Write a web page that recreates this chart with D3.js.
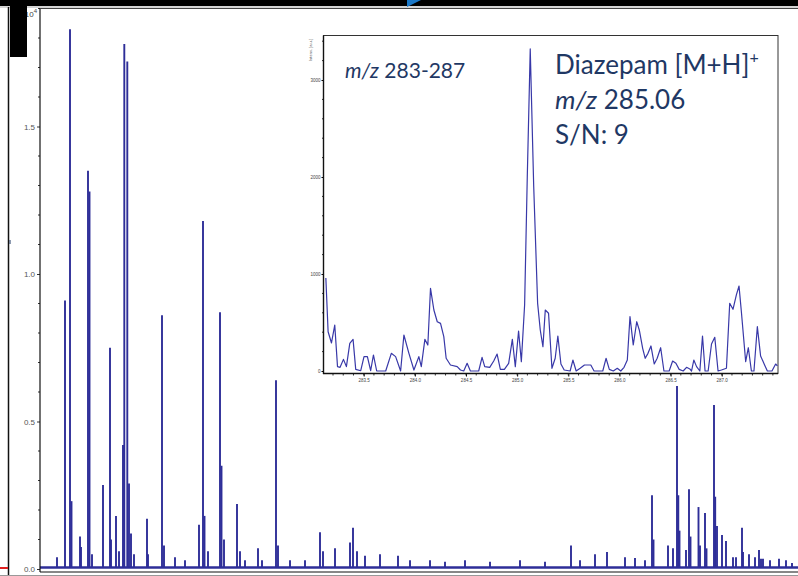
<!DOCTYPE html>
<html>
<head>
<meta charset="utf-8">
<script src="https://cdn.jsdelivr.net/npm/d3@7"></script>
<style>
  body { margin: 0; background: #fff; }
  svg { display: block; font-family: "Liberation Sans", Arial, sans-serif; }
</style>
</head>
<body>
<div id="chart-area"></div>
<script>
var width = 798;
var height = 576;

// main spectrum peaks (position along the unlabeled axis, intensity x10^4)
var mainPos = [17, 25, 30, 31.5, 40, 41, 48, 49.5, 52, 63, 70, 71, 76, 79, 83, 84.3, 87.3, 89, 91, 94,
    107, 108, 122, 124, 135, 145, 159, 163, 164.5, 168, 180, 181.5, 184, 197, 200, 205, 218, 222, 236, 238,
    250, 265, 280, 283, 295, 310, 313, 317, 325, 340, 358, 370, 390, 405, 425, 450, 480, 505, 531, 540,
    555, 567, 585, 595, 605, 612, 613.5, 628, 633, 637, 638.3, 639.5, 646, 649, 650.5, 658.5, 660, 665, 666.5,
    674, 675.2, 677, 682, 686, 693, 696, 702, 703, 709, 715, 719, 721, 723, 730, 739, 746, 752];
var mainInt = [0.04, 0.91, 1.83, 0.23, 0.11, 0.075, 1.35, 1.28, 0.05, 0.285, 0.75, 0.10, 0.18, 0.06, 0.42, 1.78, 1.72, 0.29, 0.12, 0.05,
    0.17, 0.05, 0.86, 0.08, 0.04, 0.03, 0.15, 1.18, 0.18, 0.06, 0.87, 0.35, 0.10, 0.22, 0.06, 0.03, 0.07, 0.03, 0.64, 0.08,
    0.03, 0.03, 0.125, 0.06, 0.07, 0.09, 0.14, 0.06, 0.045, 0.05, 0.045, 0.03, 0.03, 0.025, 0.03, 0.025, 0.03, 0.025, 0.08, 0.03,
    0.05, 0.058, 0.04, 0.037, 0.03, 0.25, 0.10, 0.08, 0.07, 0.62, 0.25, 0.13, 0.064, 0.27, 0.11, 0.21, 0.08, 0.19, 0.07,
    0.556, 0.245, 0.146, 0.115, 0.095, 0.04, 0.04, 0.14, 0.058, 0.05, 0.04, 0.064, 0.035, 0.035, 0.03, 0.035, 0.03, 0.02];
var mainTicks = [0.0, 0.5, 1.0, 1.5];

// inset: m/z 283-287
var insetMz = [283.130, 283.152, 283.185, 283.217, 283.244, 283.269, 283.302, 283.331, 283.364, 283.396,
    283.422, 283.471, 283.503, 283.536, 283.568, 283.595, 283.627, 283.715, 283.770, 283.812,
    283.861, 283.893, 283.942, 283.991, 284.039, 284.063, 284.098, 284.127, 284.153, 284.186,
    284.219, 284.251, 284.283, 284.306, 284.348, 284.414, 284.446, 284.478, 284.511, 284.543,
    284.624, 284.657, 284.683, 284.732, 284.771, 284.804, 284.836, 284.875, 284.917, 284.953,
    284.982, 285.014, 285.041, 285.073, 285.099, 285.128, 285.162, 285.200, 285.226, 285.252,
    285.275, 285.307, 285.340, 285.372, 285.398, 285.428, 285.460, 285.518, 285.545, 285.577,
    285.616, 285.658, 285.720, 285.752, 285.837, 285.869, 285.901, 285.940, 285.979, 286.013,
    286.045, 286.077, 286.103, 286.135, 286.169, 286.194, 286.227, 286.252, 286.279, 286.308,
    286.340, 286.369, 286.403, 286.435, 286.486, 286.520, 286.552, 286.584, 286.623, 286.656,
    286.688, 286.705, 286.727, 286.754, 286.786, 286.812, 286.837, 286.867, 286.900, 286.932,
    286.964, 286.997, 287.046, 287.078, 287.110, 287.143, 287.169, 287.192, 287.234, 287.260,
    287.290, 287.315, 287.348, 287.380, 287.419, 287.446, 287.491, 287.527, 287.544];
var insetInt = [959, 405, 289, 474, 45, 38, 120, 45, 285, 326,
    17, 3, 148, 148, 3, 165, 0, 0, 182, 148,
    0, 371, 182, 10, 148, 45, 326, 268, 852, 629,
    508, 491, 354, 131, 62, 45, 10, 0, 79, 0,
    0, 141, 45, 38, 103, 175, 17, 17, 79, 326,
    45, 412, 96, 680, 2000, 3320, 1900, 700, 423, 250,
    629, 595, 28, 131, 361, 72, 10, 0, 113, 0,
    28, 62, 62, 0, 0, 131, 17, 0, 28, 0,
    38, 113, 560, 268, 508, 423, 234, 131, 182, 258,
    72, 131, 240, 0, 0, 103, 79, 17, 0, 38,
    21, 0, 113, 45, 0, 361, 0, 0, 278, 347,
    0, 10, 28, 698, 636, 784, 876, 611, 96, 240,
    0, 0, 457, 155, 62, 0, 0, 72, 52];
var insetXTicks = [283.5, 284.0, 284.5, 285.0, 285.5, 286.0, 286.5, 287.0];
var insetYTicks = [0, 1000, 2000, 3000];

var textBlue = "#1f3864";
var specBlue = "#2e2e98";

var svg = d3.select("#chart-area").append("svg")
    .attr("width", width)
    .attr("height", height);

// ---- main spectrum ----
var x = d3.scaleLinear().domain([0, 760]).range([40, 800]);
var y = d3.scaleLinear().domain([0, 1.5]).range([569, 126.5]);

// baseline
svg.append("line")
    .attr("x1", x(0)).attr("x2", x(760))
    .attr("y1", y(0.005)).attr("y2", y(0.005))
    .attr("stroke", specBlue)
    .attr("stroke-width", 2.4);

svg.selectAll("line.peak")
    .data(mainPos)
    .enter()
    .append("line")
    .attr("class", "peak")
    .attr("x1", function(d) { return x(d); })
    .attr("x2", function(d) { return x(d); })
    .attr("y1", y(0.005))
    .attr("y2", function(d, i) { return y(mainInt[i]); })
    .attr("stroke", specBlue)
    .attr("stroke-width", 1.9);

// axes
var yAxis = d3.axisLeft(y)
    .tickValues(mainTicks)
    .tickFormat(d3.format(".1f"))
    .tickSize(3)
    .tickPadding(2);
var gy = svg.append("g")
    .attr("transform", "translate(40,0)")
    .call(yAxis);
gy.select(".domain").remove();
gy.selectAll("text").attr("fill", "#555").attr("font-size", 8);
gy.selectAll("line").attr("stroke", "#333");

var yMinor = d3.range(1, 20).map(function(d) { return d / 10; })
    .filter(function(d) { return Math.abs(d * 2 - Math.round(d * 2)) > 0.01; });
svg.selectAll("line.yminor")
    .data(yMinor)
    .enter()
    .append("line")
    .attr("class", "yminor")
    .attr("x1", 38).attr("x2", 40)
    .attr("y1", function(d) { return y(d); })
    .attr("y2", function(d) { return y(d); })
    .attr("stroke", "#333");

// frame
svg.append("line").attr("x1", 40).attr("x2", 40).attr("y1", 8).attr("y2", 572)
    .attr("stroke", "#111").attr("stroke-width", 1.2);
svg.append("line").attr("x1", 40).attr("x2", 798).attr("y1", 572).attr("y2", 572)
    .attr("stroke", "#111").attr("stroke-width", 1.2);
svg.append("line").attr("x1", 40).attr("x2", 798).attr("y1", 8.5).attr("y2", 8.5)
    .attr("stroke", "#444").attr("stroke-width", 1);

svg.append("text")
    .attr("x", 37).attr("y", 17)
    .attr("text-anchor", "end")
    .attr("font-size", 8)
    .attr("fill", "#444")
    .text("10")
    .append("tspan")
    .attr("dy", -4)
    .attr("font-size", 6)
    .text("4");

// ---- inset ----
var ix = d3.scaleLinear().domain([283.107, 287.55]).range([323.5, 778]);
var iy = d3.scaleLinear().domain([0, 1000]).range([371, 274]);

svg.append("rect")
    .attr("x", 323.5).attr("y", 35.5)
    .attr("width", 454.5).attr("height", 338)
    .attr("fill", "#fff")
    .attr("stroke", "#333")
    .attr("stroke-width", 1);

var line = d3.line()
    .x(function(d) { return ix(d); })
    .y(function(d, i) { return iy(insetInt[i]); });

svg.append("path")
    .attr("d", line(insetMz))
    .attr("fill", "none")
    .attr("stroke", "#3838a8")
    .attr("stroke-width", 1.2)
    .attr("stroke-linejoin", "round");

var ixAxis = d3.axisBottom(ix)
    .tickValues(insetXTicks)
    .tickFormat(d3.format(".1f"))
    .tickSize(3)
    .tickPadding(2);
var gix = svg.append("g")
    .attr("transform", "translate(0,373.5)")
    .call(ixAxis);
gix.select(".domain").remove();
gix.selectAll("text").attr("font-size", 4.5).attr("fill", "#444");

var ixMinor = d3.range(2832, 2876).map(function(d) { return d / 10; });
svg.selectAll("line.ixminor")
    .data(ixMinor)
    .enter()
    .append("line")
    .attr("class", "ixminor")
    .attr("x1", function(d) { return ix(d); })
    .attr("x2", function(d) { return ix(d); })
    .attr("y1", 373.5).attr("y2", 375.5)
    .attr("stroke", "#333");

var iyAxis = d3.axisLeft(iy)
    .tickValues(insetYTicks)
    .tickFormat(d3.format("d"))
    .tickSize(2)
    .tickPadding(1);
var giy = svg.append("g")
    .attr("transform", "translate(323.5,0)")
    .call(iyAxis);
giy.select(".domain").remove();
giy.selectAll("text").attr("font-size", 4.5).attr("fill", "#444");

var iyMinor = d3.range(2, 35, 2).map(function(d) { return d * 100; })
    .filter(function(d) { return d % 1000 !== 0; });
svg.selectAll("line.iyminor")
    .data(iyMinor)
    .enter()
    .append("line")
    .attr("class", "iyminor")
    .attr("x1", 322).attr("x2", 323.5)
    .attr("y1", function(d) { return iy(d); })
    .attr("y2", function(d) { return iy(d); })
    .attr("stroke", "#333");

svg.append("line").attr("x1", 323.5).attr("x2", 323.5).attr("y1", 35.5).attr("y2", 374)
    .attr("stroke", "#111").attr("stroke-width", 1.4);
svg.append("line").attr("x1", 323).attr("x2", 778).attr("y1", 373.5).attr("y2", 373.5)
    .attr("stroke", "#111").attr("stroke-width", 1.4);

svg.append("text")
    .attr("transform", "translate(312,50) rotate(-90)")
    .attr("text-anchor", "middle")
    .attr("font-size", 4)
    .attr("fill", "#555")
    .text("Intens. [a.u.]");

// inset annotations
var t1 = svg.append("text")
    .attr("x", 345).attr("y", 78)
    .attr("font-family", "Lato, 'Open Sans', sans-serif")
    .attr("font-size", 21)
    .attr("fill", textBlue);
t1.append("tspan").attr("font-style", "italic").text("m/z");
t1.append("tspan").text(" 283-287");

var t2 = svg.append("text")
    .attr("x", 555).attr("y", 74)
    .attr("font-family", "Lato, 'Open Sans', sans-serif")
    .attr("font-size", 26)
    .attr("fill", textBlue);
t2.append("tspan").text("Diazepam [M+H]");
t2.append("tspan").attr("dy", -11).attr("font-size", 16).text("+");

var t3 = svg.append("text")
    .attr("x", 555).attr("y", 109)
    .attr("font-family", "Lato, 'Open Sans', sans-serif")
    .attr("font-size", 26)
    .attr("fill", textBlue);
t3.append("tspan").attr("font-style", "italic").text("m/z");
t3.append("tspan").text(" 285.06");

svg.append("text")
    .attr("x", 555).attr("y", 144)
    .attr("font-family", "Lato, 'Open Sans', sans-serif")
    .attr("font-size", 26)
    .attr("fill", textBlue)
    .text("S/N: 9");

// ---- screen decorations around the figure ----
svg.append("rect").attr("x", 0).attr("y", 0).attr("width", width).attr("height", 6).attr("fill", "#000");
svg.append("line").attr("x1", 0).attr("x2", width).attr("y1", 7).attr("y2", 7)
    .attr("stroke", "#aaa").attr("stroke-width", 1);
svg.append("path").attr("d", "M407,0 L421,0 L407,7 Z").attr("fill", "#1a78c8");
svg.append("rect").attr("x", 10).attr("y", 6).attr("width", 17).attr("height", 51).attr("fill", "#000");
svg.append("line").attr("x1", 8.5).attr("x2", 8.5).attr("y1", 7).attr("y2", 575)
    .attr("stroke", "#111").attr("stroke-width", 1.5);
svg.append("line").attr("x1", 0).attr("x2", 8).attr("y1", 568).attr("y2", 568)
    .attr("stroke", "#e02020").attr("stroke-width", 2);
svg.append("line").attr("x1", 10).attr("x2", 10).attr("y1", 240).attr("y2", 244)
    .attr("stroke", "#1f3864").attr("stroke-width", 1);
svg.append("line").attr("x1", 0).attr("x2", width).attr("y1", 575.5).attr("y2", 575.5)
    .attr("stroke", "#999").attr("stroke-width", 1);
</script>
</body>
</html>
